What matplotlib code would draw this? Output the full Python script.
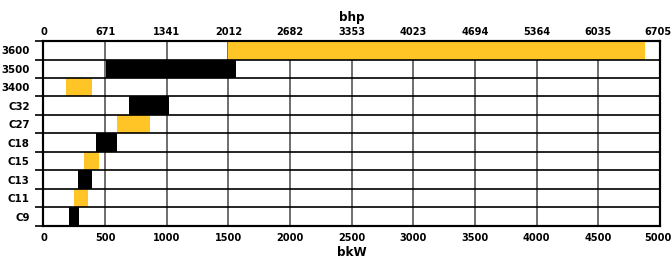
import numpy as np
import matplotlib.pyplot as plt
import matplotlib.transforms as mtransforms
from matplotlib.ticker import FixedLocator

plt.rcParams['font.family'] = ['DejaVu Sans']
plt.rcParams['font.stretch'] = 'condensed'

# engine models, bottom to top
models = ["C9", "C11", "C13", "C15", "C18", "C27", "C32", "3400", "3500", "3600"]
kw_low = [205, 250, 280, 330, 425, 600, 690, 180, 510, 1500]
kw_high = [288, 365, 390, 450, 600, 860, 1015, 390, 1560, 4880]
colors = ["#000000", "#FFC425", "#000000", "#FFC425", "#000000",
          "#FFC425", "#000000", "#FFC425", "#000000", "#FFC425"]

kw_ticks = [0, 500, 1000, 1500, 2000, 2500, 3000, 3500, 4000, 4500, 5000]
bhp_labels = ["0", "671", "1341", "2012", "2682", "3353", "4023", "4694",
              "5364", "6035", "6705"]

fig = plt.figure(figsize=(6.72, 2.6), dpi=100)
ax = fig.add_axes([0.0647, 0.1308, 0.9175, 0.7115])

y = np.arange(len(models))
widths = np.array(kw_high) - np.array(kw_low)
ax.barh(y, widths, left=kw_low, height=1.0, color=colors, zorder=3)

ax.set_xlim(0, 5000)
ax.set_ylim(-0.5, len(models) - 0.5)

# vertical grid
for v in kw_ticks[1:-1]:
    ax.axvline(v, color="#555555", lw=1.2, zorder=2)
# row separators
for b in np.arange(0.5, len(models) - 1, 1.0):
    ax.axhline(b, color="black", lw=1.2, zorder=4)

ax.yaxis.set_major_locator(FixedLocator(np.arange(-0.5, len(models), 1.0)))
ax.yaxis.set_minor_locator(FixedLocator(y))
ax.yaxis.set_minor_formatter(plt.FixedFormatter(models))
ax.set_yticklabels([])
ax.tick_params(axis="y", which="major", length=6, width=1.2, color="black")
ax.tick_params(axis="y", which="minor", length=0, pad=10)
for t in ax.get_yticklabels(which="minor"):
    t.set_fontweight("bold")
    t.set_fontsize(8.2)

ax.set_xticks(kw_ticks)
ax.set_xticklabels([str(k) for k in kw_ticks], fontweight="bold", fontsize=7.8)
ax.tick_params(axis="x", length=0, pad=5)
ax.set_xlabel("bkW", fontweight="bold", fontsize=9.5, labelpad=2)

top = ax.twiny()
top.set_xlim(ax.get_xlim())
top.set_xticks(kw_ticks)
top.set_xticklabels(bhp_labels, fontweight="bold", fontsize=7.8)
top.tick_params(axis="x", length=0, pad=3)
top.set_xlabel("bhp", fontweight="bold", fontsize=9.5, labelpad=4)

# nudge the rightmost labels so they stay inside the figure
shift = mtransforms.ScaledTranslation(-2 / 100, 0, fig.dpi_scale_trans)
for lab in (ax.get_xticklabels()[-1], top.get_xticklabels()[-1]):
    lab.set_transform(lab.get_transform() + shift)

for a in (ax, top):
    for s in a.spines.values():
        s.set_color("black")
        s.set_linewidth(1.5)
    a.spines["left"].set_zorder(5)

fig.savefig("out.png", dpi=100)
